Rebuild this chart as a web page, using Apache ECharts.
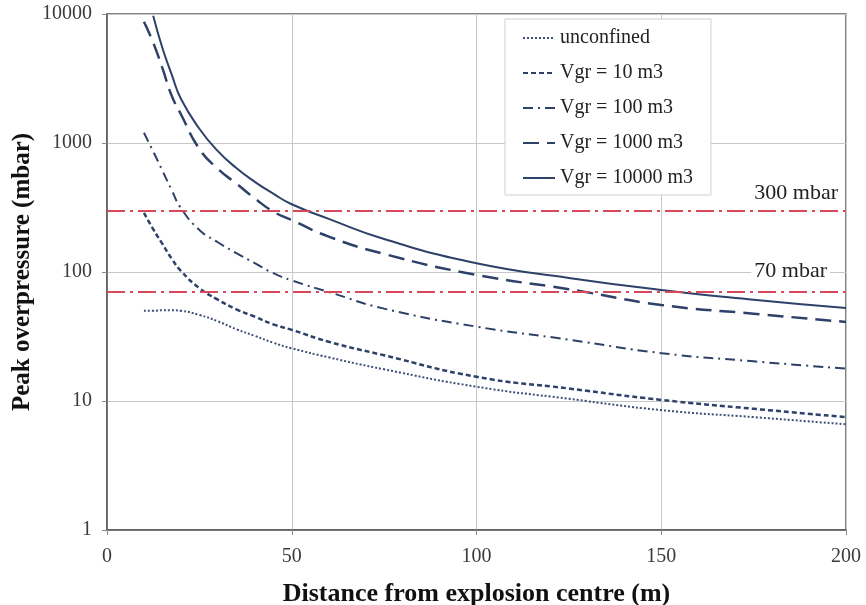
<!DOCTYPE html>
<html><head><meta charset="utf-8">
<script src="https://cdn.jsdelivr.net/npm/echarts@6/dist/echarts.min.js"></script>
<style>html,body{margin:0;padding:0;background:#fff}#c{width:866px;height:605px}</style>
</head><body><div id="c"></div>
<script>
// Distance from explosion centre (m)
const distances = [10, 12.5, 15, 17.5, 20, 25, 30, 35, 40, 45, 50, 60, 75, 100, 125, 150, 175, 200];
// Peak overpressure (mbar)
const unconfined = [50, 50, 50.5, 50.5, 50, 46.5, 41.5, 36, 32, 28.3, 25.6, 21.8, 17.6, 12.9, 10.4, 8.5, 7.5, 6.6];
const vgr10      = [287, 215, 165, 127, 102, 75, 61, 51.4, 45, 39.3, 35.6, 28.8, 22.6, 15.4, 12.5, 10.2, 8.7, 7.5];
const vgr100     = [1200, 860, 610, 432, 313, 212, 170, 140, 117, 98, 86, 70, 52, 37.7, 29.9, 23.5, 20.3, 17.8];
const vgr1000    = [8700, 6000, 3800, 2330, 1670, 900, 630, 485, 372, 294, 253, 188, 138, 95, 73.6, 55.5, 47.5, 41];
const vgr10000   = [null, 9700, 5450, 3400, 2200, 1290, 865, 640, 500, 405, 335, 258, 180, 117, 90, 72.5, 61, 52.5];
const seriesNames = ['unconfined', 'Vgr = 10 m3', 'Vgr = 100 m3', 'Vgr = 1000 m3', 'Vgr = 10000 m3'];
const thresholds = [300, 70];
const thresholdLabels = ['300 mbar', '70 mbar'];
const xTicks = [0, 50, 100, 150, 200];
const yTicks = [1, 10, 100, 1000, 10000];

const FONT = 'Liberation Serif';
const NAVY = '#2e4168';
const seriesValues = [unconfined, vgr10, vgr100, vgr1000, vgr10000];
const styles = [
  {color: '#3d4f75', width: 2, type: [2, 2]},
  {color: NAVY, width: 2.5, type: [5, 3]},
  {color: NAVY, width: 2, type: [10, 5, 2, 5]},
  {color: NAVY, width: 2.5, type: [16, 8]},
  {color: NAVY, width: 2, type: 'solid'}
];

const series = seriesNames.map((name, k) => ({
  name: name,
  type: 'line',
  symbol: 'none',
  smooth: 0.5,
  z: 3,
  color: styles[k].color,
  lineStyle: styles[k],
  data: distances.map((d, i) => [d, seriesValues[k][i]]).filter(p => p[1] !== null)
}));

series[0].markLine = {
  silent: true,
  symbol: 'none',
  z: 4,
  lineStyle: {color: '#d8475a', width: 2, type: [18, 5, 3, 5]},
  data: thresholds.map((t, i) => ({
    yAxis: t,
    label: {
      show: true,
      position: 'insideEndTop',
      formatter: thresholdLabels[i],
      fontFamily: FONT,
      fontSize: 22,
      color: '#222',
      distance: i === 0 ? [8, 6] : [16, 10],
      backgroundColor: i === 0 ? 'transparent' : '#fff',
      padding: i === 0 ? 0 : [0, 3]
    }
  }))
};

const chart = echarts.init(document.getElementById('c'), null, {renderer: 'canvas'});
chart.setOption({
  animation: false,
  backgroundColor: '#fff',
  grid: {left: 107, right: 20, top: 14, bottom: 75, outerBoundsMode: 'none', containLabel: false,
         show: true, borderColor: '#5a5a5a', borderWidth: 1.5, backgroundColor: 'transparent'},
  legend: {
    data: seriesNames,
    orient: 'vertical',
    left: 505, top: 19,
    padding: [9, 18, 7, 17],
    itemGap: 15,
    itemWidth: 32, itemHeight: 14,
    backgroundColor: '#fff',
    borderColor: '#cfcfcf', borderWidth: 1,
    itemStyle: {opacity: 0, borderWidth: 0},
    textStyle: {fontFamily: FONT, fontSize: 20, color: '#222'}
  },
  xAxis: {
    type: 'value', min: xTicks[0], max: xTicks[xTicks.length - 1], interval: 50,
    name: 'Distance from explosion centre (m)', nameLocation: 'middle', nameGap: 51,
    nameMoveOverlap: false,
    nameTextStyle: {fontFamily: FONT, fontSize: 26, fontWeight: 'bold', color: '#111'},
    axisLine: {show: true, lineStyle: {color: '#5a5a5a', width: 1.5}},
    axisTick: {show: true, length: 5, lineStyle: {color: '#888'}},
    axisLabel: {fontFamily: FONT, fontSize: 20, color: '#3a3a3a', margin: 17},
    splitLine: {show: true, lineStyle: {color: '#c8c8c8', width: 1}}
  },
  yAxis: {
    type: 'log', logBase: 10, min: yTicks[0], max: yTicks[yTicks.length - 1],
    name: 'Peak overpressure (mbar)', nameLocation: 'middle', nameGap: 72,
    nameMoveOverlap: false,
    nameTextStyle: {fontFamily: FONT, fontSize: 25, fontWeight: 'bold', color: '#111'},
    axisLine: {show: true, lineStyle: {color: '#5a5a5a', width: 1.5}},
    axisTick: {show: true, length: 5, lineStyle: {color: '#888'}},
    axisLabel: {fontFamily: FONT, fontSize: 20, color: '#3a3a3a', margin: 15,
                formatter: v => String(Math.round(v))},
    splitLine: {show: true, lineStyle: {color: '#c8c8c8', width: 1}},
    minorTick: {show: false}
  },
  series: series
});
</script>
</body></html>
